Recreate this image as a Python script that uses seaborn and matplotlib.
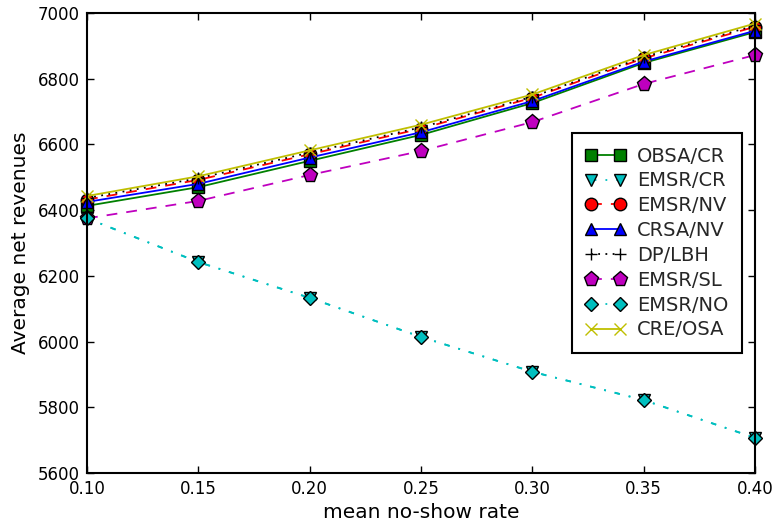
import matplotlib
matplotlib.use("Agg")
import matplotlib.pyplot as plt
import seaborn as sns
import pandas as pd

sns.set_style("ticks")
plt.rcParams['font.family'] = ['DejaVu Sans']

rates = [0.10, 0.15, 0.20, 0.25, 0.30, 0.35, 0.40]
obsa_cr = [6413, 6470, 6550, 6629, 6726, 6848, 6942]
emsr_cr = [6375, 6242, 6133, 6014, 5908, 5822, 5707]
emsr_nv = [6432, 6492, 6570, 6648, 6742, 6862, 6958]
crsa_nv = [6425, 6480, 6560, 6637, 6732, 6852, 6946]
dp_lbh = [6437, 6497, 6575, 6652, 6745, 6866, 6962]
emsr_sl = [6375, 6428, 6507, 6580, 6668, 6784, 6872]
emsr_no = [6375, 6242, 6133, 6014, 5908, 5822, 5707]
cre_osa = [6443, 6503, 6582, 6660, 6752, 6872, 6968]

dashdot = (0, (3, 5, 1, 5))
series = [
    ("OBSA/CR", obsa_cr, (0, 0.5, 0), "s", "-", 9),
    ("EMSR/CR", emsr_cr, (0, 0.75, 0.75), "v", dashdot, 9),
    ("EMSR/NV", emsr_nv, (1, 0, 0), "o", (0, (6, 5)), 9),
    ("CRSA/NV", crsa_nv, (0, 0, 1), "^", "-", 9),
    ("DP/LBH", dp_lbh, (0, 0, 0), "+", (0, (1, 3)), 9),
    ("EMSR/SL", emsr_sl, (0.75, 0, 0.75), "p", (0, (6, 5)), 11),
    ("EMSR/NO", emsr_no, (0, 0.75, 0.75), "D", dashdot, 7.5),
    ("CRE/OSA", cre_osa, (0.75, 0.75, 0), "x", "-", 9),
]

fig = plt.figure(figsize=(7.78, 5.29), dpi=100)
ax = fig.add_axes([87/778, 1-473/529, (755-87)/778, (473-13)/529])

for name, vals, col, mk, ls, ms in series:
    df = pd.DataFrame({"x": rates, "y": vals})
    sns.lineplot(data=df, x="x", y="y", ax=ax, color=col, marker=mk, linestyle=ls,
                 linewidth=1.3, markersize=ms,
                 markeredgecolor=col if mk in ("+", "x") else "black",
                 markeredgewidth=1.0, label=name, clip_on=False)

ax.set_xlim(0.10, 0.40)
ax.set_ylim(5600, 7000)
ax.set_xticks(rates)
ax.set_xticklabels([f"{r:.2f}" for r in rates])
ax.set_yticks(range(5600, 7001, 200))
ax.tick_params(direction="in", top=True, right=True, labelsize=12, length=5, width=1,
               colors="black", pad=5)
for s in ax.spines.values():
    s.set_linewidth(1.5)
    s.set_color("black")
ax.set_xlabel("mean no-show rate", fontsize=14.5, color="black", labelpad=4)
ax.set_ylabel("Average net revenues", fontsize=14.5, color="black", labelpad=6)

leg = ax.legend(loc="upper left", bbox_to_anchor=((572-87)/668, 1-(133-13)/460),
                borderaxespad=0, numpoints=2, handlelength=2.05,
                fontsize=14, frameon=True, fancybox=False, borderpad=0.7, labelspacing=0.3,
                handletextpad=0.6)
leg.get_frame().set_edgecolor("black")
leg.get_frame().set_linewidth(1.5)
leg.get_frame().set_alpha(1)

fig.savefig("out.png", dpi=100)
